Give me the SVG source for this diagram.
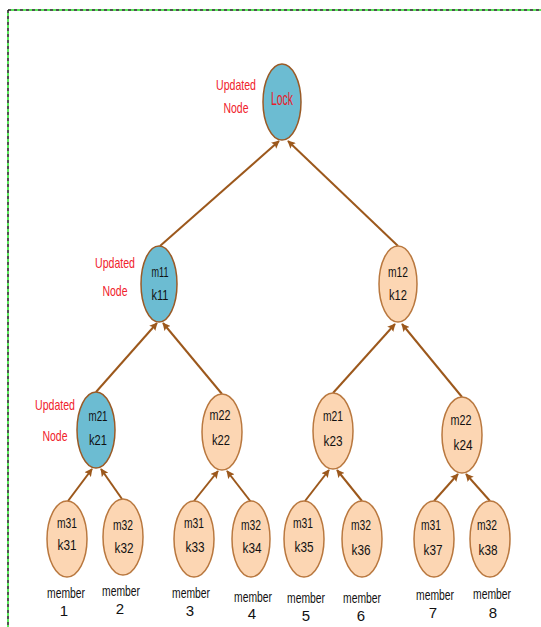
<svg xmlns="http://www.w3.org/2000/svg" width="541" height="627" viewBox="0 0 541 627">
  <style>
    .frame { fill: none; stroke-width: 1.5; }
    .upd { fill: #6cbcd2; stroke: #9a5a26; stroke-width: 1.5; }
    .std { fill: #fcd6b3; stroke: #b9783f; stroke-width: 1.5; }
    text { font-family: "Liberation Sans", Arial, sans-serif; text-anchor: middle; }
    .lbl { font-size: 15px; fill: #111; }
    .red { font-size: 15px; fill: #f0222d; }
    .lock { font-size: 18px; fill: #e8202c; }
    .mem { font-size: 15px; fill: #111; }
    .edge { stroke: #9c581c; stroke-width: 2; fill: none; marker-end: url(#head); }
  </style>
  <defs>
    <marker id="head" viewBox="0 0 10 10" refX="9" refY="5" markerWidth="8" markerHeight="8" orient="auto" markerUnits="userSpaceOnUse">
      <path d="M0,0 L10,5 L0,10 L2,5 z" fill="#9c581c"/>
    </marker>
  </defs>
  <rect width="541" height="627" fill="#fff"/>

  <!-- dashed frame (top and left edges) -->
  <g id="frame">
    <path class="frame" d="M8,10 H541 M8,10 V627" stroke="#1a1a1a" stroke-dasharray="3,3"/>
    <path class="frame" d="M8,10 H541 M8,10 V627" stroke="#22e022" stroke-dasharray="3,3" stroke-dashoffset="3"/>
  </g>

  <g id="connectors">
    <line class="edge" x1="160" y1="246" x2="279" y2="141"/>
    <line class="edge" x1="398" y1="246" x2="288" y2="141"/>
    <line class="edge" x1="96" y1="392" x2="157" y2="323"/>
    <line class="edge" x1="222" y1="394" x2="163" y2="323"/>
    <line class="edge" x1="333" y1="393" x2="395" y2="324"/>
    <line class="edge" x1="462" y1="397" x2="402" y2="324"/>
    <line class="edge" x1="68" y1="501" x2="92" y2="469"/>
    <line class="edge" x1="122" y1="499" x2="101" y2="469"/>
    <line class="edge" x1="194" y1="501" x2="218" y2="471"/>
    <line class="edge" x1="251" y1="502" x2="227" y2="471"/>
    <line class="edge" x1="305" y1="501" x2="329" y2="470"/>
    <line class="edge" x1="362" y1="501" x2="337" y2="470"/>
    <line class="edge" x1="434" y1="501" x2="458" y2="474"/>
    <line class="edge" x1="490" y1="501" x2="466" y2="474"/>
  </g>

  <g id="root">
    <ellipse class="upd" cx="282" cy="102" rx="19" ry="38"/>
    <text class="lock" x="282" y="105" textLength="22" lengthAdjust="spacingAndGlyphs">Lock</text>
    <text class="red" x="236" y="90" textLength="40" lengthAdjust="spacingAndGlyphs">Updated</text>
    <text class="red" x="236" y="113" textLength="25" lengthAdjust="spacingAndGlyphs">Node</text>
  </g>

  <g id="m11">
    <ellipse class="upd" cx="159" cy="284" rx="18" ry="38"/>
    <text class="lbl" x="160" y="277" textLength="17" lengthAdjust="spacingAndGlyphs">m11</text>
    <text class="lbl" x="160" y="300" textLength="17" lengthAdjust="spacingAndGlyphs">k11</text>
    <text class="red" x="115" y="268" textLength="40" lengthAdjust="spacingAndGlyphs">Updated</text>
    <text class="red" x="115" y="296" textLength="25" lengthAdjust="spacingAndGlyphs">Node</text>
  </g>

  <g id="m12">
    <ellipse class="std" cx="398" cy="284" rx="19" ry="38"/>
    <text class="lbl" x="398" y="277" textLength="20" lengthAdjust="spacingAndGlyphs">m12</text>
    <text class="lbl" x="398" y="300" textLength="18" lengthAdjust="spacingAndGlyphs">k12</text>
  </g>

  <g id="m21-k21">
    <ellipse class="upd" cx="96" cy="430" rx="19" ry="38"/>
    <text class="lbl" x="98" y="421" textLength="19" lengthAdjust="spacingAndGlyphs">m21</text>
    <text class="lbl" x="98" y="445" textLength="18" lengthAdjust="spacingAndGlyphs">k21</text>
    <text class="red" x="55" y="410" textLength="40" lengthAdjust="spacingAndGlyphs">Updated</text>
    <text class="red" x="55" y="441" textLength="25" lengthAdjust="spacingAndGlyphs">Node</text>
  </g>

  <g id="m22-k22">
    <ellipse class="std" cx="222" cy="432" rx="20" ry="38"/>
    <text class="lbl" x="220" y="420" textLength="21" lengthAdjust="spacingAndGlyphs">m22</text>
    <text class="lbl" x="221" y="445" textLength="18" lengthAdjust="spacingAndGlyphs">k22</text>
  </g>

  <g id="m21-k23">
    <ellipse class="std" cx="333" cy="431" rx="20" ry="38"/>
    <text class="lbl" x="333" y="421" textLength="20" lengthAdjust="spacingAndGlyphs">m21</text>
    <text class="lbl" x="333" y="446" textLength="19" lengthAdjust="spacingAndGlyphs">k23</text>
  </g>

  <g id="m22-k24">
    <ellipse class="std" cx="462" cy="435" rx="20" ry="38"/>
    <text class="lbl" x="461" y="425" textLength="21" lengthAdjust="spacingAndGlyphs">m22</text>
    <text class="lbl" x="463" y="450" textLength="19" lengthAdjust="spacingAndGlyphs">k24</text>
  </g>

  <g id="member1">
    <ellipse class="std" cx="67" cy="539" rx="20" ry="38"/>
    <text class="lbl" x="67" y="528" textLength="20" lengthAdjust="spacingAndGlyphs">m31</text>
    <text class="lbl" x="67" y="550" textLength="19" lengthAdjust="spacingAndGlyphs">k31</text>
    <text class="mem" x="66" y="598" textLength="38" lengthAdjust="spacingAndGlyphs">member</text>
    <text class="mem" x="64" y="616">1</text>
  </g>

  <g id="member2">
    <ellipse class="std" cx="123" cy="537" rx="20" ry="38"/>
    <text class="lbl" x="123" y="530" textLength="20" lengthAdjust="spacingAndGlyphs">m32</text>
    <text class="lbl" x="124" y="553" textLength="19" lengthAdjust="spacingAndGlyphs">k32</text>
    <text class="mem" x="121" y="596" textLength="38" lengthAdjust="spacingAndGlyphs">member</text>
    <text class="mem" x="120" y="614">2</text>
  </g>

  <g id="member3">
    <ellipse class="std" cx="194" cy="539" rx="20" ry="38"/>
    <text class="lbl" x="194" y="528" textLength="20" lengthAdjust="spacingAndGlyphs">m31</text>
    <text class="lbl" x="195" y="552" textLength="19" lengthAdjust="spacingAndGlyphs">k33</text>
    <text class="mem" x="191" y="598" textLength="38" lengthAdjust="spacingAndGlyphs">member</text>
    <text class="mem" x="190" y="616">3</text>
  </g>

  <g id="member4">
    <ellipse class="std" cx="251" cy="539" rx="19" ry="38"/>
    <text class="lbl" x="251" y="530" textLength="20" lengthAdjust="spacingAndGlyphs">m32</text>
    <text class="lbl" x="252" y="553" textLength="19" lengthAdjust="spacingAndGlyphs">k34</text>
    <text class="mem" x="253" y="602" textLength="38" lengthAdjust="spacingAndGlyphs">member</text>
    <text class="mem" x="252" y="619">4</text>
  </g>

  <g id="member5">
    <ellipse class="std" cx="304" cy="539" rx="20" ry="38"/>
    <text class="lbl" x="303" y="528" textLength="20" lengthAdjust="spacingAndGlyphs">m31</text>
    <text class="lbl" x="304" y="552" textLength="19" lengthAdjust="spacingAndGlyphs">k35</text>
    <text class="mem" x="306" y="603" textLength="38" lengthAdjust="spacingAndGlyphs">member</text>
    <text class="mem" x="306" y="621">5</text>
  </g>

  <g id="member6">
    <ellipse class="std" cx="362" cy="539" rx="20" ry="38"/>
    <text class="lbl" x="361" y="530" textLength="20" lengthAdjust="spacingAndGlyphs">m32</text>
    <text class="lbl" x="361" y="555" textLength="19" lengthAdjust="spacingAndGlyphs">k36</text>
    <text class="mem" x="362" y="603" textLength="38" lengthAdjust="spacingAndGlyphs">member</text>
    <text class="mem" x="361" y="621">6</text>
  </g>

  <g id="member7">
    <ellipse class="std" cx="434" cy="539" rx="20" ry="38"/>
    <text class="lbl" x="431" y="530" textLength="20" lengthAdjust="spacingAndGlyphs">m31</text>
    <text class="lbl" x="433" y="555" textLength="19" lengthAdjust="spacingAndGlyphs">k37</text>
    <text class="mem" x="435" y="600" textLength="38" lengthAdjust="spacingAndGlyphs">member</text>
    <text class="mem" x="433" y="618">7</text>
  </g>

  <g id="member8">
    <ellipse class="std" cx="490" cy="539" rx="20" ry="38"/>
    <text class="lbl" x="487" y="530" textLength="20" lengthAdjust="spacingAndGlyphs">m32</text>
    <text class="lbl" x="488" y="555" textLength="19" lengthAdjust="spacingAndGlyphs">k38</text>
    <text class="mem" x="492" y="599" textLength="38" lengthAdjust="spacingAndGlyphs">member</text>
    <text class="mem" x="493" y="618">8</text>
  </g>
</svg>
